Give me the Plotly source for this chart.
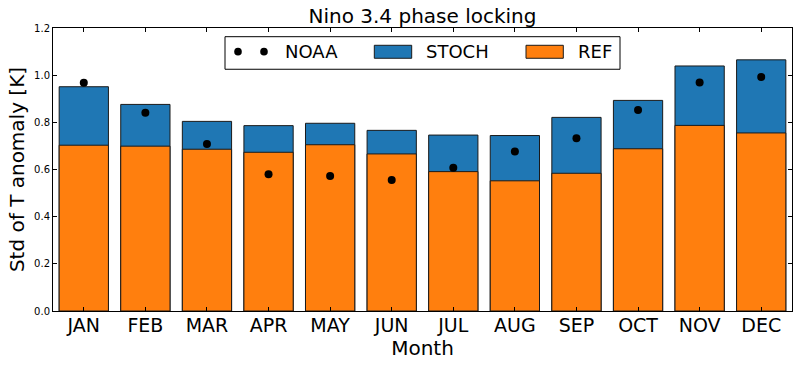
import plotly.graph_objects as go

months = ["JAN", "FEB", "MAR", "APR", "MAY", "JUN", "JUL", "AUG", "SEP", "OCT", "NOV", "DEC"]
stoch = [0.951, 0.876, 0.804, 0.786, 0.796, 0.766, 0.746, 0.744, 0.821, 0.893, 1.039, 1.065]
ref = [0.703, 0.699, 0.686, 0.673, 0.705, 0.666, 0.591, 0.552, 0.584, 0.688, 0.787, 0.755]
noaa = [0.968, 0.841, 0.708, 0.580, 0.572, 0.556, 0.607, 0.676, 0.732, 0.852, 0.969, 0.992]

BLUE = "#1f77b4"
ORANGE = "#ff7f0e"
EDGE = "#1a1a1a"
FONT = "DejaVu Sans"

fig = go.Figure()
fig.add_trace(go.Bar(x=months, y=stoch, name="STOCH", marker=dict(color=BLUE, line=dict(color=EDGE, width=1)), width=0.8))
fig.add_trace(go.Bar(x=months, y=ref, name="REF", marker=dict(color=ORANGE, line=dict(color=EDGE, width=1)), width=0.8))
fig.add_trace(go.Scatter(x=months, y=noaa, name="NOAA", mode="markers", marker=dict(color="black", size=8)))

# manual legend (matplotlib style with two NOAA points)
L, R, T, B = 53, 792, 28, 311.3
def px(x):
    return (x - L) / (R - L)
def py(y):
    return (B - y) / (B - T)

shapes = [
    dict(type="rect", xref="paper", yref="paper", x0=px(225), x1=px(620), y0=py(69.3), y1=py(36.7),
         line=dict(color="black", width=1), fillcolor="white", layer="above"),
    dict(type="rect", xref="paper", yref="paper", x0=px(374.3), x1=px(411.7), y0=py(58.3), y1=py(45.3),
         line=dict(color=EDGE, width=1), fillcolor=BLUE, layer="above"),
    dict(type="rect", xref="paper", yref="paper", x0=px(526), x1=px(563.3), y0=py(58.3), y1=py(45.3),
         line=dict(color=EDGE, width=1), fillcolor=ORANGE, layer="above"),
]
for cx in (238, 264):
    shapes.append(dict(type="circle", xref="paper", yref="paper", xsizemode="pixel", ysizemode="pixel",
                       xanchor=px(cx), yanchor=py(51.7), x0=-3.8, x1=3.8, y0=-3.8, y1=3.8,
                       fillcolor="black", line=dict(color="black", width=0), layer="above"))

annotations = []
for txt, x in (("NOAA", 284), ("STOCH", 425), ("REF", 577)):
    annotations.append(dict(text=txt, xref="paper", yref="paper", x=px(x), y=py(52), xanchor="left",
                            yanchor="middle", showarrow=False, font=dict(family=FONT, size=18, color="black"),
                            borderpad=0))

fig.update_layout(
    width=800, height=366,
    margin=dict(l=53, r=8, t=28, b=55, autoexpand=False),
    paper_bgcolor="white", plot_bgcolor="white",
    barmode="overlay",
    showlegend=False,
    font=dict(family=FONT, color="black"),
    title=dict(text="Nino 3.4 phase locking", x=0.5281, xanchor="center", y=0.957, yanchor="middle",
               font=dict(family=FONT, size=20, color="black")),
    shapes=shapes,
    annotations=annotations,
)
fig.update_xaxes(range=[-0.5, 11.5], showline=True, linecolor="black", linewidth=1, mirror="ticks",
                 ticks="inside", ticklen=4, tickcolor="black", showgrid=False, automargin=False,
                 tickfont=dict(family=FONT, size=19), ticklabelstandoff=-3,
                 title=dict(text="Month", font=dict(family=FONT, size=20), standoff=0))
fig.update_yaxes(range=[0, 1.2], dtick=0.2, tickformat=".1f", showline=True, linecolor="black", linewidth=1,
                 mirror="ticks", ticks="inside", ticklen=4, tickcolor="black", showgrid=False, zeroline=False,
                 automargin=False,
                 tickfont=dict(family=FONT, size=10),
                 title=dict(text="Std of T anomaly [K]", font=dict(family=FONT, size=20), standoff=4))

fig.write_html("out.html", config={"displayModeBar": False},
               post_script="document.body.style.margin='0px';document.body.style.padding='0px';")
